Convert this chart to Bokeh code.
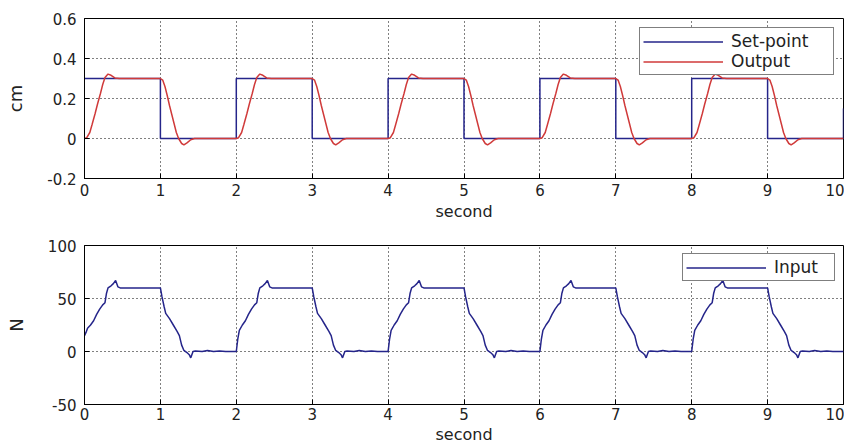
from bokeh.plotting import figure
from bokeh.layouts import column
from bokeh.models import FixedTicker, Legend, LegendItem
from bokeh.embed import file_html
from bokeh.resources import INLINE

# ---------------- data ----------------
x_ticks = [0, 1, 2, 3, 4, 5, 6, 7, 8, 9, 10]
top_yticks = [-0.2, 0, 0.2, 0.4, 0.6]
top_ylabels = ["-0.2", "0", "0.2", "0.4", "0.6"]
bot_yticks = [-50, 0, 50, 100]
bot_ylabels = ["-50", "0", "50", "100"]

setpoint_t = [0, 1, 1, 2, 2, 3, 3, 4, 4, 5, 5, 6, 6, 7, 7, 8, 8, 9, 9, 10, 10]
setpoint_y = [0.3, 0.3, 0, 0, 0.3, 0.3, 0, 0, 0.3, 0.3, 0, 0, 0.3, 0.3, 0, 0, 0.3, 0.3, 0, 0, 0.15]

output_t = [
    0.00, 0.03, 0.07, 0.10, 0.14, 0.17, 0.21, 0.24, 0.27, 0.31, 0.35, 0.40, 0.46,
    1.00, 1.03, 1.06, 1.09, 1.12, 1.15, 1.18, 1.21, 1.24, 1.28, 1.31, 1.35, 1.40, 1.45,
    2.00, 2.03, 2.07, 2.10, 2.14, 2.17, 2.21, 2.24, 2.27, 2.31, 2.35, 2.40, 2.46,
    3.00, 3.03, 3.06, 3.09, 3.12, 3.15, 3.18, 3.21, 3.24, 3.28, 3.31, 3.35, 3.40, 3.45,
    4.00, 4.03, 4.07, 4.10, 4.14, 4.17, 4.21, 4.24, 4.27, 4.31, 4.35, 4.40, 4.46,
    5.00, 5.03, 5.06, 5.09, 5.12, 5.15, 5.18, 5.21, 5.24, 5.28, 5.31, 5.35, 5.40, 5.45,
    6.00, 6.03, 6.07, 6.10, 6.14, 6.17, 6.21, 6.24, 6.27, 6.31, 6.35, 6.40, 6.46,
    7.00, 7.03, 7.06, 7.09, 7.12, 7.15, 7.18, 7.21, 7.24, 7.28, 7.31, 7.35, 7.40, 7.45,
    8.00, 8.03, 8.07, 8.10, 8.14, 8.17, 8.21, 8.24, 8.27, 8.31, 8.35, 8.40, 8.46,
    9.00, 9.03, 9.06, 9.09, 9.12, 9.15, 9.18, 9.21, 9.24, 9.28, 9.31, 9.35, 9.40, 9.45,
    10.00,
]
output_y = [
    0.0, 0.004, 0.03, 0.07, 0.125, 0.17, 0.225, 0.27, 0.305, 0.322, 0.316, 0.303, 0.3,
    0.3, 0.292, 0.26, 0.215, 0.165, 0.12, 0.075, 0.03, 0.0, -0.025, -0.032, -0.022, -0.006, 0.0,
    0.0, 0.004, 0.03, 0.07, 0.125, 0.17, 0.225, 0.27, 0.305, 0.322, 0.316, 0.303, 0.3,
    0.3, 0.292, 0.26, 0.215, 0.165, 0.12, 0.075, 0.03, 0.0, -0.025, -0.032, -0.022, -0.006, 0.0,
    0.0, 0.004, 0.03, 0.07, 0.125, 0.17, 0.225, 0.27, 0.305, 0.322, 0.316, 0.303, 0.3,
    0.3, 0.292, 0.26, 0.215, 0.165, 0.12, 0.075, 0.03, 0.0, -0.025, -0.032, -0.022, -0.006, 0.0,
    0.0, 0.004, 0.03, 0.07, 0.125, 0.17, 0.225, 0.27, 0.305, 0.322, 0.316, 0.303, 0.3,
    0.3, 0.292, 0.26, 0.215, 0.165, 0.12, 0.075, 0.03, 0.0, -0.025, -0.032, -0.022, -0.006, 0.0,
    0.0, 0.004, 0.03, 0.07, 0.125, 0.17, 0.225, 0.27, 0.305, 0.322, 0.316, 0.303, 0.3,
    0.3, 0.292, 0.26, 0.215, 0.165, 0.12, 0.075, 0.03, 0.0, -0.025, -0.032, -0.022, -0.006, 0.0,
    0.0,
]

input_t = [
    0.00, 0.02, 0.04, 0.08, 0.12, 0.16, 0.20, 0.24, 0.27, 0.29, 0.31, 0.35, 0.38, 0.41, 0.44, 0.47,
    1.00, 1.02, 1.05, 1.07, 1.12, 1.17, 1.22, 1.25, 1.28, 1.31, 1.35, 1.38, 1.40, 1.43, 1.46, 1.55, 1.62, 1.70, 1.78, 1.86,
    2.00, 2.02, 2.04, 2.08, 2.12, 2.16, 2.20, 2.24, 2.27, 2.29, 2.31, 2.35, 2.38, 2.41, 2.44, 2.47,
    3.00, 3.02, 3.05, 3.07, 3.12, 3.17, 3.22, 3.25, 3.28, 3.31, 3.35, 3.38, 3.40, 3.43, 3.46, 3.55, 3.62, 3.70, 3.78, 3.86,
    4.00, 4.02, 4.04, 4.08, 4.12, 4.16, 4.20, 4.24, 4.27, 4.29, 4.31, 4.35, 4.38, 4.41, 4.44, 4.47,
    5.00, 5.02, 5.05, 5.07, 5.12, 5.17, 5.22, 5.25, 5.28, 5.31, 5.35, 5.38, 5.40, 5.43, 5.46, 5.55, 5.62, 5.70, 5.78, 5.86,
    6.00, 6.02, 6.04, 6.08, 6.12, 6.16, 6.20, 6.24, 6.27, 6.29, 6.31, 6.35, 6.38, 6.41, 6.44, 6.47,
    7.00, 7.02, 7.05, 7.07, 7.12, 7.17, 7.22, 7.25, 7.28, 7.31, 7.35, 7.38, 7.40, 7.43, 7.46, 7.55, 7.62, 7.70, 7.78, 7.86,
    8.00, 8.02, 8.04, 8.08, 8.12, 8.16, 8.20, 8.24, 8.27, 8.29, 8.31, 8.35, 8.38, 8.41, 8.44, 8.47,
    9.00, 9.02, 9.05, 9.07, 9.12, 9.17, 9.22, 9.25, 9.28, 9.31, 9.35, 9.38, 9.40, 9.43, 9.46, 9.55, 9.62, 9.70, 9.78, 9.86,
    10.00,
]
input_y = [
    15, 18, 22, 25, 29, 35, 40, 44, 46, 55, 60, 62, 64, 67, 61, 60,
    60, 52, 42, 36, 31, 25, 19, 15, 6, 1, -1, -3, -6, 0, 0.5, 0, 1, 0, 0.5, 0,
    0, 12, 20, 25, 29, 35, 40, 44, 46, 55, 60, 62, 64, 67, 61, 60,
    60, 52, 42, 36, 31, 25, 19, 15, 6, 1, -1, -3, -6, 0, 0.5, 0, 1, 0, 0.5, 0,
    0, 12, 20, 25, 29, 35, 40, 44, 46, 55, 60, 62, 64, 67, 61, 60,
    60, 52, 42, 36, 31, 25, 19, 15, 6, 1, -1, -3, -6, 0, 0.5, 0, 1, 0, 0.5, 0,
    0, 12, 20, 25, 29, 35, 40, 44, 46, 55, 60, 62, 64, 67, 61, 60,
    60, 52, 42, 36, 31, 25, 19, 15, 6, 1, -1, -3, -6, 0, 0.5, 0, 1, 0, 0.5, 0,
    0, 12, 20, 25, 29, 35, 40, 44, 46, 55, 60, 62, 64, 67, 61, 60,
    60, 52, 42, 36, 31, 25, 19, 15, 6, 1, -1, -3, -6, 0, 0.5, 0, 1, 0, 0.5, 0,
    0,
]

# ---------------- styling ----------------
FONT = "DejaVu Sans"
BLUE = "#25258a"
RED = "#d03a3a"
TXT = "#222222"


def style(p, yticks, ylabels, ylabel, xstand, xlabstand, ylabstand):
    p.xaxis.ticker = FixedTicker(ticks=x_ticks)
    p.yaxis.ticker = FixedTicker(ticks=yticks)
    p.yaxis.major_label_overrides = dict(zip(yticks, ylabels))
    for ax in (p.xaxis[0], p.yaxis[0]):
        ax.major_tick_in = 5
        ax.major_tick_out = 0
        ax.minor_tick_line_color = None
        ax.axis_line_color = "black"
        ax.major_tick_line_color = "black"
        ax.major_label_text_font = FONT
        ax.major_label_text_font_size = "15px"
        ax.major_label_text_color = TXT
        ax.axis_label_text_font = FONT
        ax.axis_label_text_font_style = "normal"
        ax.axis_label_text_color = TXT
    p.xaxis.major_label_standoff = xstand
    p.yaxis.major_label_standoff = 8
    p.xaxis.axis_label = "second"
    p.xaxis.axis_label_text_font_size = "16px"
    p.xaxis.axis_label_standoff = xlabstand
    p.yaxis.axis_label = ylabel
    p.yaxis.axis_label_text_font_size = "18px"
    p.yaxis.axis_label_standoff = ylabstand
    for g in (p.xgrid, p.ygrid):
        g.grid_line_color = "black"
        g.grid_line_dash = "1 3"
        g.grid_line_alpha = 1
    p.outline_line_color = "black"
    p.outline_line_alpha = 1
    p.background_fill_color = "white"
    p.border_fill_color = "white"


p1 = figure(width=844, height=228, x_range=(0, 10), y_range=(-0.2, 0.6),
            output_backend="svg", toolbar_location=None,
            min_border_left=84, min_border_right=1, min_border_top=18, min_border_bottom=50)
style(p1, top_yticks, top_ylabels, "cm", 5, 3, 18)
r_sp = p1.line(setpoint_t, setpoint_y, line_color=BLUE, line_width=1.5)
r_out = p1.line(output_t, output_y, line_color=RED, line_width=1.5)
leg1 = Legend(items=[LegendItem(label="Set-point", renderers=[r_sp]),
                     LegendItem(label="Output", renderers=[r_out])],
              location="top_right")
p1.add_layout(leg1, "center")

p2 = figure(width=844, height=218, x_range=(0, 10), y_range=(-50, 100),
            output_backend="svg", toolbar_location=None,
            min_border_left=84, min_border_right=1, min_border_top=17, min_border_bottom=40)
style(p2, bot_yticks, bot_ylabels, "N", 3, 2, 18)
r_in = p2.line(input_t, input_y, line_color=BLUE, line_width=1.5)
leg2 = Legend(items=[LegendItem(label="Input", renderers=[r_in])], location="top_right")
p2.add_layout(leg2, "center")

for lg, lw, mg in ((leg1, 99, 9), (leg2, 57, 8)):
    lg.border_line_color = "black"
    lg.border_line_width = 1
    lg.background_fill_color = "white"
    lg.background_fill_alpha = 1
    lg.label_text_font = FONT
    lg.label_text_font_size = "17px"
    lg.label_text_color = TXT
    lg.glyph_width = 80
    lg.glyph_height = 17
    lg.label_height = 17
    lg.label_width = lw
    lg.label_standoff = 8
    lg.spacing = 0
    lg.padding = 3
    lg.margin = mg

layout = column(p1, p2)
open("out.html", "w").write(file_html(layout, INLINE))
